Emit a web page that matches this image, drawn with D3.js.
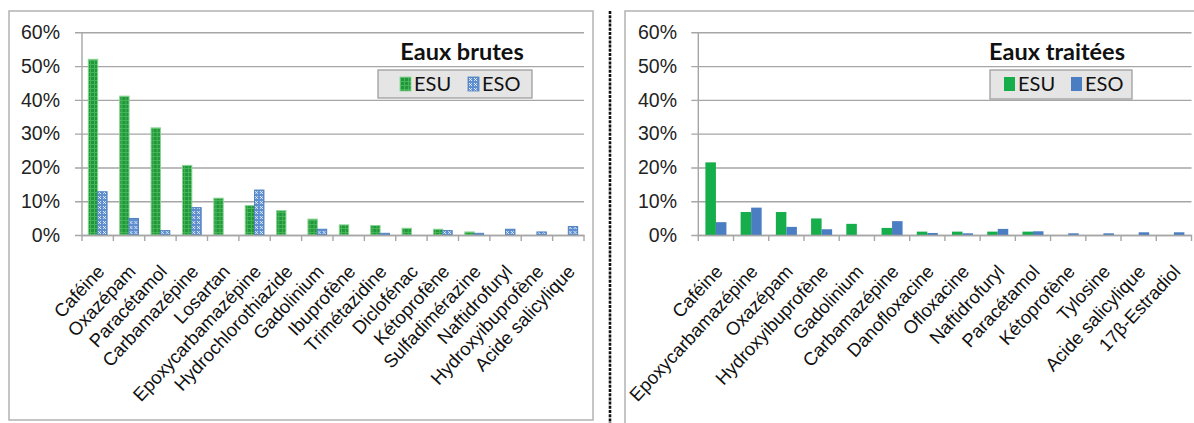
<!DOCTYPE html>
<html>
<head>
<meta charset="utf-8">
<script src="https://cdn.jsdelivr.net/npm/d3@7"></script>
<style>
  body { margin: 0; background: #fff; }
  svg { display: block; font-family: Lato, "Liberation Sans", sans-serif; }
  .ytick text { font-size: 19.5px; fill: #222; }
  .xlab text { font-size: 18.5px; fill: #111; }
  .title { font-size: 23.5px; font-weight: bold; fill: #111; }
  .legtxt { font-size: 20px; fill: #111; }
</style>
</head>
<body>
<script>
// Raw water (left) and treated water (right), % detection
var brutCats = ["Caféine", "Oxazépam", "Paracétamol", "Carbamazépine", "Losartan",
  "Epoxycarbamazépine", "Hydrochlorothiazide", "Gadolinium", "Ibuprofène", "Trimétazidine",
  "Diclofénac", "Kétoprofène", "Sulfadimérazine", "Naftidrofuryl", "Hydroxyibuprofène",
  "Acide salicylique"];
var brutESU = [52, 41.1, 31.7, 20.6, 10.9, 8.7, 7.2, 4.7, 3.0, 2.8, 2.0, 1.7, 0.9, 0, 0, 0];
var brutESO = [12.8, 4.9, 1.3, 8.1, 0, 13.3, 0, 1.7, 0, 0.5, 0, 1.3, 0.5, 1.7, 0.9, 2.5];

var traitCats = ["Caféine", "Epoxycarbamazépine", "Oxazépam", "Hydroxyibuprofène", "Gadolinium",
  "Carbamazépine", "Danofloxacine", "Ofloxacine", "Naftidrofuryl", "Paracétamol",
  "Kétoprofène", "Tylosine", "Acide salicylique", "17β-Estradiol"];
var traitESU = [21.5, 6.8, 6.8, 4.9, 3.3, 2.1, 1.0, 1.0, 1.0, 1.0, 0, 0, 0, 0];
var traitESO = [3.8, 8.1, 2.4, 1.7, 0, 4.1, 0.6, 0.5, 1.8, 1.1, 0.5, 0.5, 0.8, 0.8];

var series = ["ESU", "ESO"];
var yTicks = [0, 0.1, 0.2, 0.3, 0.4, 0.5, 0.6];

var w = 1194, h = 423;

var svg = d3.select("body").append("svg")
    .attr("width", w)
    .attr("height", h);

svg.append("rect").attr("width", w).attr("height", h).attr("fill", "#fff");

// fill patterns for the left chart (Excel-like textures)
var defs = svg.append("defs");
var pg = defs.append("pattern").attr("id", "patGreen")
    .attr("width", 4).attr("height", 4).attr("patternUnits", "userSpaceOnUse");
pg.append("rect").attr("width", 4).attr("height", 4).attr("fill", "#45b556");
pg.append("rect").attr("x", 1).attr("y", 1).attr("width", 3).attr("height", 3).attr("fill", "#21973b");

var pb = defs.append("pattern").attr("id", "patBlue")
    .attr("width", 5).attr("height", 5).attr("patternUnits", "userSpaceOnUse");
pb.append("rect").attr("width", 5).attr("height", 5).attr("fill", "#5f8fd0");
pb.append("rect").attr("x", 1).attr("y", 1).attr("width", 1).attr("height", 1).attr("fill", "#e8f0fb");
pb.append("rect").attr("x", 3).attr("y", 3).attr("width", 1).attr("height", 1).attr("fill", "#e8f0fb");
pb.append("rect").attr("x", 3).attr("y", 1).attr("width", 1).attr("height", 1).attr("fill", "#c9dbf3");
pb.append("rect").attr("x", 1).attr("y", 3).attr("width", 1).attr("height", 1).attr("fill", "#c9dbf3");
pb.append("rect").attr("x", 2).attr("y", 2).attr("width", 1).attr("height", 1).attr("fill", "#ffffff");

function drawChart(cfg) {
    var g = svg.append("g");

    // outer frame
    g.append("rect")
        .attr("x", cfg.box[0]).attr("y", cfg.box[1])
        .attr("width", cfg.box[2]).attr("height", cfg.box[3])
        .attr("fill", "none").attr("stroke", "#b3b3b3").attr("stroke-width", 1.5);

    var y = d3.scaleLinear().domain([0, 0.6]).range([235, 32.3]);

    var x0 = d3.scaleBand().domain(cfg.cats).range([cfg.left, cfg.right]);
    var x1 = d3.scaleBand().domain(series).range([0, x0.bandwidth()]).paddingOuter(0.675);

    // y axis with gridlines
    var yAxis = d3.axisLeft(y).tickValues(yTicks).tickFormat(d3.format(".0%"))
        .tickSize(-(cfg.right - cfg.left)).tickPadding(0);
    var ya = g.append("g").attr("class", "ytick")
        .attr("transform", "translate(" + cfg.left + ",0)")
        .call(yAxis);
    ya.select(".domain").remove();
    ya.selectAll("line").attr("x1", -7).attr("stroke", "#a6a6a6").attr("stroke-width", 1.4);
    ya.selectAll("text").attr("x", cfg.labelX - cfg.left).attr("font-size", null);

    g.append("line")
        .attr("x1", cfg.left).attr("x2", cfg.left)
        .attr("y1", y(0.6)).attr("y2", y(0))
        .attr("stroke", "#a6a6a6").attr("stroke-width", 1.4);

    // category boundary ticks
    var bounds = cfg.cats.map(function(c){ return x0(c); }).concat([cfg.right]);
    g.selectAll(".btick").data(bounds).enter().append("line")
        .attr("x1", function(d){ return d; }).attr("x2", function(d){ return d; })
        .attr("y1", y(0)).attr("y2", y(0) + 6)
        .attr("stroke", "#a6a6a6").attr("stroke-width", 1.4);

    // bars
    var rows = cfg.cats.map(function(c, i){
        return { cat: c, vals: [{ s: "ESU", v: cfg.esu[i] }, { s: "ESO", v: cfg.eso[i] }] };
    });
    var grp = g.selectAll(".grp").data(rows).enter().append("g")
        .attr("transform", function(d){ return "translate(" + x0(d.cat) + ",0)"; });
    grp.selectAll("rect").data(function(d){ return d.vals.filter(function(e){ return e.v > 0; }); })
        .enter().append("rect")
        .attr("x", function(d){ return x1(d.s); })
        .attr("width", x1.bandwidth())
        .attr("y", function(d){ return y(d.v / 100); })
        .attr("height", function(d){ return y(0) - y(d.v / 100); })
        .attr("fill", function(d){ return cfg.fill[d.s]; })
        .attr("stroke", function(d){ return cfg.stroke[d.s]; })
        .attr("stroke-width", cfg.strokeW);

    // x axis line + labels
    var xAxis = d3.axisBottom(x0).tickSize(0).tickPadding(0);
    var xa = g.append("g").attr("class", "xlab")
        .attr("transform", "translate(0," + y(0) + ")")
        .call(xAxis);
    xa.select(".domain").attr("stroke", "#a6a6a6").attr("stroke-width", 1.4);
    xa.selectAll("text")
        .attr("font-size", null)
        .attr("text-anchor", "end")
        .attr("y", 0).attr("dy", "0.35em")
        .attr("transform", "translate(3,33) rotate(-47)");

    // title
    g.append("text").attr("class", "title")
        .attr("x", cfg.titleX).attr("y", 60)
        .attr("text-anchor", "middle")
        .text(cfg.title);

    // legend
    var lb = cfg.legend;
    g.append("rect")
        .attr("x", lb[0]).attr("y", lb[1]).attr("width", lb[2]).attr("height", lb[3])
        .attr("fill", "#e5e5e5").attr("stroke", "#9f9f9f").attr("stroke-width", 1.3);
    var li = g.selectAll(".leg").data(series).enter().append("g")
        .attr("transform", function(d, i){ return "translate(" + cfg.legX[i] + "," + (lb[1] + 7) + ")"; });
    li.append("rect")
        .attr("width", 11).attr("height", 14)
        .attr("fill", function(d){ return cfg.fill[d]; })
        .attr("stroke", function(d){ return cfg.legStroke ? cfg.stroke[d] : "none"; })
        .attr("stroke-width", 0.8);
    li.append("text").attr("class", "legtxt")
        .attr("x", 14).attr("y", 14)
        .text(function(d){ return d; });
}

drawChart({
    box: [9, 11, 584, 409],
    left: 82, right: 584, labelX: 60,
    cats: brutCats, esu: brutESU, eso: brutESO,
    fill: { ESU: "url(#patGreen)", ESO: "url(#patBlue)" },
    stroke: { ESU: "#86d492", ESO: "#4f81bd" },
    strokeW: 1, legStroke: true,
    title: "Eaux brutes", titleX: 462,
    legend: [378, 70, 154, 28], legX: [400, 468]
});

drawChart({
    box: [625, 11, 580, 420],
    left: 698.3, right: 1191.5, labelX: 677,
    cats: traitCats, esu: traitESU, eso: traitESO,
    fill: { ESU: "#16ad4b", ESO: "#4a7dc1" },
    stroke: { ESU: "#16ad4b", ESO: "#4a7dc1" },
    strokeW: 0, legStroke: false,
    title: "Eaux traitées", titleX: 1057,
    legend: [990, 70, 142, 29], legX: [1004, 1071]
});

// dashed divider between the two panels
svg.append("line")
    .attr("x1", 610).attr("x2", 610)
    .attr("y1", 11).attr("y2", h)
    .attr("stroke", "#111").attr("stroke-width", 2.6)
    .attr("stroke-dasharray", "3,1.2");
</script>
</body>
</html>
